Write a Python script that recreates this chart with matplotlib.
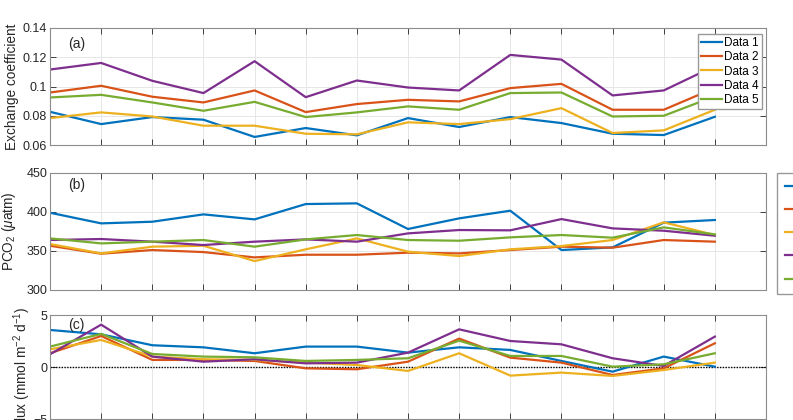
import matplotlib
matplotlib.use("Agg")
import matplotlib.pyplot as plt
import numpy as np

plt.rcParams['font.family'] = ['Liberation Sans', 'DejaVu Sans']
plt.rcParams['mathtext.fontset'] = 'custom'
plt.rcParams['mathtext.rm'] = 'Liberation Sans'
plt.rcParams['mathtext.it'] = 'Liberation Sans:italic'

x = list(range(1, 15))
labels = ["Data 1", "Data 2", "Data 3", "Data 4", "Data 5"]
colors = ["#0072BD", "#D95319", "#EDB120", "#7E2F8E", "#77AC30"]

# Panel (a): exchange coefficient
k1 = [0.0827, 0.0743, 0.0791, 0.0773, 0.0655, 0.0716, 0.0666, 0.0784, 0.0723, 0.0791, 0.0750, 0.0677, 0.0668, 0.0793]
k2 = [0.0959, 0.1005, 0.0930, 0.0891, 0.0973, 0.0825, 0.0880, 0.0909, 0.0898, 0.0989, 0.1018, 0.0841, 0.0841, 0.0990]
k3 = [0.0784, 0.0823, 0.0795, 0.0732, 0.0732, 0.0677, 0.0673, 0.0755, 0.0743, 0.0777, 0.0852, 0.0682, 0.0700, 0.0841]
k4 = [0.1116, 0.1161, 0.1039, 0.0955, 0.1173, 0.0927, 0.1041, 0.0993, 0.0973, 0.1216, 0.1184, 0.0939, 0.0973, 0.1140]
k5 = [0.0925, 0.0943, 0.0891, 0.0834, 0.0895, 0.0791, 0.0823, 0.0864, 0.0841, 0.0955, 0.0959, 0.0795, 0.0800, 0.0933]

# Panel (b): PCO2
p1 = [398.8, 385.2, 387.3, 396.7, 390.3, 409.9, 410.8, 378.0, 391.6, 401.4, 351.1, 354.5, 386.1, 389.5]
p2 = [356.6, 346.4, 351.1, 348.5, 341.7, 345.1, 345.1, 347.7, 346.8, 351.1, 355.4, 354.1, 363.9, 361.8]
p3 = [358.8, 346.8, 355.4, 356.6, 337.0, 352.0, 366.0, 349.0, 343.4, 352.0, 356.2, 363.9, 386.5, 370.3]
p4 = [363.9, 365.2, 361.8, 357.5, 361.8, 364.7, 361.8, 372.4, 376.7, 376.3, 390.7, 378.8, 375.8, 369.4]
p5 = [366.0, 359.6, 361.8, 363.9, 355.4, 364.7, 370.3, 363.9, 363.0, 367.3, 370.3, 366.9, 380.1, 371.1]

# Panel (c): flux
f1 = [3.59, 3.17, 2.12, 1.92, 1.35, 1.99, 1.99, 1.41, 1.92, 1.67, 0.61, -0.42, 1.03, 0.06]
f2 = [1.35, 3.01, 0.71, 0.71, 0.61, -0.10, -0.19, 0.54, 2.76, 0.93, 0.45, -0.74, -0.10, 2.31]
f3 = [1.73, 2.63, 1.03, 0.77, 0.71, 0.45, 0.22, -0.35, 1.35, -0.80, -0.51, -0.83, -0.26, 0.45]
f4 = [1.25, 4.10, 1.03, 0.54, 0.77, 0.38, 0.45, 1.41, 3.65, 2.53, 2.21, 0.87, 0.13, 2.95]
f5 = [1.99, 3.21, 1.28, 1.03, 0.96, 0.61, 0.71, 0.87, 2.56, 1.09, 1.09, 0.06, 0.29, 1.35]

W, H = 793, 420
fig = plt.figure(figsize=(W / 100, H / 100), dpi=100)

def ax_at(left, top, right, bottom):
    return fig.add_axes([left / W, 1 - bottom / H, (right - left) / W, (bottom - top) / H])

axa = ax_at(50, 28, 766, 145)
axb = ax_at(50, 172.7, 766, 290)
axc = ax_at(50, 315.3, 766, 419.3)

spine_c = "#8c8c8c"
txt_c = "#262626"

def style(ax):
    ax.set_xlim(1, 15)
    ax.set_xticks(range(1, 16))
    ax.tick_params(axis='both', which='both', direction='in', top=True, right=True,
                   length=4, width=0.6, colors=txt_c, labelsize=9.0, pad=2,
                   labelbottom=False)
    ax.grid(True, color="#e6e6e6", linewidth=0.7)
    ax.set_axisbelow(True)
    for s in ax.spines.values():
        s.set_color(spine_c)
        s.set_linewidth(0.8)

for ax, data in [(axa, [k1, k2, k3, k4, k5]), (axb, [p1, p2, p3, p4, p5]), (axc, [f1, f2, f3, f4, f5])]:
    for d, c, lab in zip(data, colors, labels):
        ax.plot(x, d, color=c, linewidth=1.6, label=lab)
    style(ax)

lab_fs = 9.8

axa.set_ylim(0.06, 0.14)
axa.set_yticks([0.06, 0.08, 0.1, 0.12, 0.14])
axa.set_yticklabels(["0.06", "0.08", "0.1", "0.12", "0.14"])
axa.set_ylabel("Exchange coefficient", fontsize=lab_fs, color=txt_c)
axa.yaxis.set_label_coords(-0.0433, 0.5)
axa.text(0.025, 0.925, "(a)", transform=axa.transAxes, ha='left', va='top', fontsize=10, color=txt_c)
axa.legend(loc='upper right', bbox_to_anchor=(0.994, 0.95), borderaxespad=0, fontsize=8.5,
           frameon=True, fancybox=False, edgecolor="#999999", framealpha=1,
           handlelength=1.8, handletextpad=0.2, labelspacing=0.2, borderpad=0.25)

axb.set_ylim(300, 450)
axb.set_yticks([300, 350, 400, 450])
axb.set_ylabel("PCO$_2$ ($\\mu$atm)", fontsize=lab_fs, color=txt_c)
axb.yaxis.set_label_coords(-0.0443, 0.5)
axb.text(0.025, 0.952, "(b)", transform=axb.transAxes, ha='left', va='top', fontsize=10, color=txt_c)
axb.legend(loc='upper left', bbox_to_anchor=(1.0154, 1.0), borderaxespad=0, fontsize=8.5,
           frameon=True, fancybox=False, edgecolor="#999999", framealpha=1,
           handlelength=2.3, handletextpad=0.4, labelspacing=0.95, borderpad=0.7)

axc.set_ylim(-5, 5)
axc.set_yticks([-5, 0, 5])
axc.axhline(0, color="black", linestyle=(0, (1, 1)), linewidth=1.0, zorder=1)
axc.set_ylabel("Flux (mmol m$^{-2}$ d$^{-1}$)", fontsize=lab_fs, color=txt_c)
axc.yaxis.set_label_coords(-0.0237, 0.5)
axc.text(0.025, 0.975, "(c)", transform=axc.transAxes, ha='left', va='top', fontsize=10, color=txt_c)

fig.savefig("out.png", dpi=100)
